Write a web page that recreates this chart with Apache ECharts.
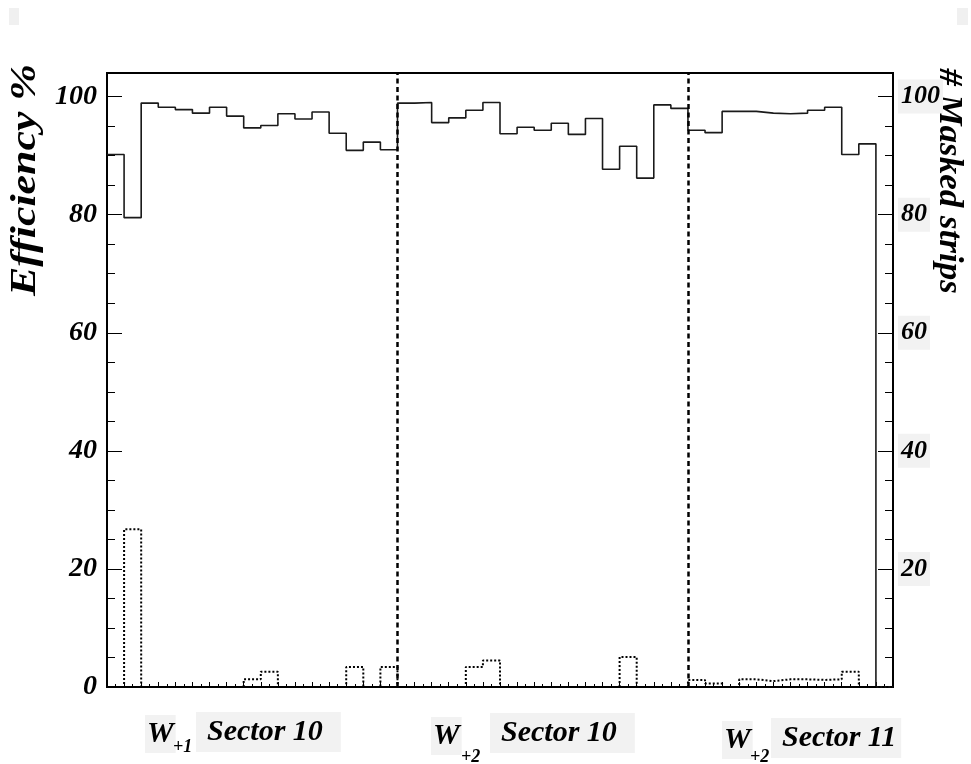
<!DOCTYPE html>
<html lang="en">
  <head>
    <meta charset="utf-8" />
    <script type="text/javascript" src="https://cdn.jsdelivr.net/npm/echarts@6/dist/echarts.min.js"></script>
    <title>Efficiency -- Masked strips</title>
    <style>
      html, body { margin: 0; padding: 0; background: #fff; }
      #chart { width: 971px; height: 764px; }
    </style>
  </head>
  <body>
    <div id="chart"></div>
    <script>
      // one value per strip bin, 46 bins
      var efficiency = [
        90.2, 79.5, 98.9, 98.2, 97.8, 97.2, 98.2, 96.7, 94.7, 95.1, 97.1, 96.2, 97.4, 93.8, 90.9, 92.3, 91.0,
        98.9, 99.0, 95.6, 96.4, 97.7, 99.0, 93.7, 94.8, 94.3, 95.5, 93.6, 96.3, 87.7, 91.6, 86.2, 98.6, 98.0,
        94.3, 93.9, 97.5, 97.5, 97.2, 97.1, 97.2, 97.7, 98.2, 90.2, 92.0, 0
      ]
      var masked = [
        0, 26.7, 0, 0, 0, 0, 0, 0, 1.3, 2.6, 0, 0, 0, 0, 3.4, 0, 3.4,
        0, 0, 0, 0, 3.4, 4.5, 0, 0, 0, 0, 0, 0, 0, 5.1, 0, 0, 0,
        1.2, 0.6, 0, 1.3, 1.0, 1.3, 1.3, 1.2, 1.3, 2.6, 0, 0
      ]
      var sectorEdges = [17, 34]
      var yTicks = [0, 20, 40, 60, 80, 100]

      var FONT = '"Liberation Serif", "DejaVu Serif", serif'

      // histogram outline: point at each bin's low edge, closing point at the last edge
      function toSteps (arr) {
        var pts = arr.map(function (v, i) { return [i, v] })
        pts.push([arr.length, arr[arr.length - 1]])
        return pts
      }

      function labelStyle (extra) {
        var s = {
          fontFamily: FONT, fontStyle: 'italic', fontWeight: 'bold', fontSize: 28, color: '#000'
        }
        for (var k in extra) s[k] = extra[k]
        return s
      }

      window.onload = function () {
        var chart = echarts.init(document.getElementById('chart'), null, { renderer: 'canvas' })
        var yMax = 104
        chart.setOption({
          animation: false,
          backgroundColor: '#fff',
          grid: {
            left: 107, right: 78, top: 73, bottom: 77,
            show: true, borderColor: '#000', borderWidth: 2, backgroundColor: 'transparent'
          },
          xAxis: [
            {
              type: 'value', min: 0, max: efficiency.length, interval: 1, position: 'bottom',
              axisLine: { show: true, lineStyle: { color: '#000', width: 2 } },
              axisTick: { show: true, inside: true, length: 5, lineStyle: { color: '#000', width: 1 } },
              minorTick: { show: true, splitNumber: 2, length: 3, lineStyle: { color: '#000', width: 1 } },
              axisLabel: { show: false },
              splitLine: { show: false }
            }
          ],
          yAxis: [
            {
              type: 'value', min: yTicks[0], max: yMax, interval: 20, position: 'left',
              axisLine: { show: true, lineStyle: { color: '#000', width: 2 } },
              axisTick: { show: true, inside: true, length: 15, lineStyle: { color: '#000', width: 1 } },
              axisLabel: labelStyle({ margin: 10, showMaxLabel: false }),
              splitLine: { show: false }
            },
            {
              type: 'value', min: 0, max: yMax, interval: 5, position: 'left',
              axisLine: { show: false },
              axisTick: { show: true, inside: true, length: 8, lineStyle: { color: '#000', width: 1 } },
              axisLabel: { show: false },
              splitLine: { show: false }
            },
            {
              type: 'value', min: yTicks[0], max: yMax, interval: 20, position: 'right',
              axisLine: { show: true, lineStyle: { color: '#000', width: 2 } },
              axisTick: { show: true, inside: true, length: 15, lineStyle: { color: '#000', width: 1 } },
              axisLabel: labelStyle({
                fontSize: 26, margin: 5, showMaxLabel: false, showMinLabel: false,
                backgroundColor: '#f2f2f2', padding: [4, 3, 4, 3]
              }),
              splitLine: { show: false }
            },
            {
              type: 'value', min: 0, max: yMax, interval: 5, position: 'right',
              axisLine: { show: false },
              axisTick: { show: true, inside: true, length: 8, lineStyle: { color: '#000', width: 1 } },
              axisLabel: { show: false },
              splitLine: { show: false }
            }
          ],
          series: [
            {
              name: 'Efficiency', type: 'line', step: 'end', data: toSteps(efficiency),
              symbol: 'none', xAxisIndex: 0, yAxisIndex: 0,
              lineStyle: { color: '#1a1a1a', width: 1.6 },
              markLine: {
                silent: true, symbol: 'none', label: { show: false },
                lineStyle: { color: '#000', width: 2.5, type: [5, 3.5] },
                data: sectorEdges.map(function (x) { return { xAxis: x } })
              }
            },
            {
              name: 'Masked strips', type: 'line', step: 'end', data: toSteps(masked),
              symbol: 'none', xAxisIndex: 0, yAxisIndex: 0,
              lineStyle: { color: '#000', width: 2, type: [2, 2] }
            }
          ],
          graphic: [
            // axis titles
            {
              type: 'text', x: 26, y: 180, rotation: Math.PI / 2, scaleX: 1.22,
              style: labelStyle({ text: 'Efficiency %', fontSize: 36, align: 'center', verticalAlign: 'middle' })
            },
            {
              type: 'text', x: 949, y: 181, rotation: -Math.PI / 2, scaleX: 1.03,
              style: labelStyle({ text: '# Masked strips', fontSize: 34, align: 'center', verticalAlign: 'middle' })
            },
            // sector labels
            { type: 'text', x: 145, y: 734, style: labelStyle({ text: 'W', fontSize: 30, verticalAlign: 'middle', backgroundColor: '#f2f2f2', padding: [4, 2, 4, 2] }) },
            { type: 'text', x: 173, y: 747, style: labelStyle({ text: '+1', fontSize: 18, verticalAlign: 'middle' }) },
            { type: 'text', x: 196, y: 732, style: labelStyle({ text: 'Sector 10', fontSize: 30, verticalAlign: 'middle', backgroundColor: '#f2f2f2', padding: [5, 18, 5, 11] }) },

            { type: 'text', x: 431, y: 736, style: labelStyle({ text: 'W', fontSize: 30, verticalAlign: 'middle', backgroundColor: '#f2f2f2', padding: [4, 2, 4, 2] }) },
            { type: 'text', x: 461, y: 757, style: labelStyle({ text: '+2', fontSize: 18, verticalAlign: 'middle' }) },
            { type: 'text', x: 490, y: 733, style: labelStyle({ text: 'Sector 10', fontSize: 30, verticalAlign: 'middle', backgroundColor: '#f2f2f2', padding: [5, 18, 5, 11] }) },

            { type: 'text', x: 722, y: 740, style: labelStyle({ text: 'W', fontSize: 30, verticalAlign: 'middle', backgroundColor: '#f2f2f2', padding: [4, 2, 4, 2] }) },
            { type: 'text', x: 750, y: 757, style: labelStyle({ text: '+2', fontSize: 18, verticalAlign: 'middle' }) },
            { type: 'text', x: 771, y: 738, style: labelStyle({ text: 'Sector 11', fontSize: 30, verticalAlign: 'middle', backgroundColor: '#f2f2f2', padding: [5, 5, 5, 11] }) },

            // faint corner boxes
            { type: 'rect', shape: { x: 9, y: 8, width: 10, height: 17 }, style: { fill: '#f0f0f0' } },
            { type: 'rect', shape: { x: 957, y: 8, width: 11, height: 17 }, style: { fill: '#f0f0f0' } }
          ]
        })
      }
    </script>
  </body>
</html>
